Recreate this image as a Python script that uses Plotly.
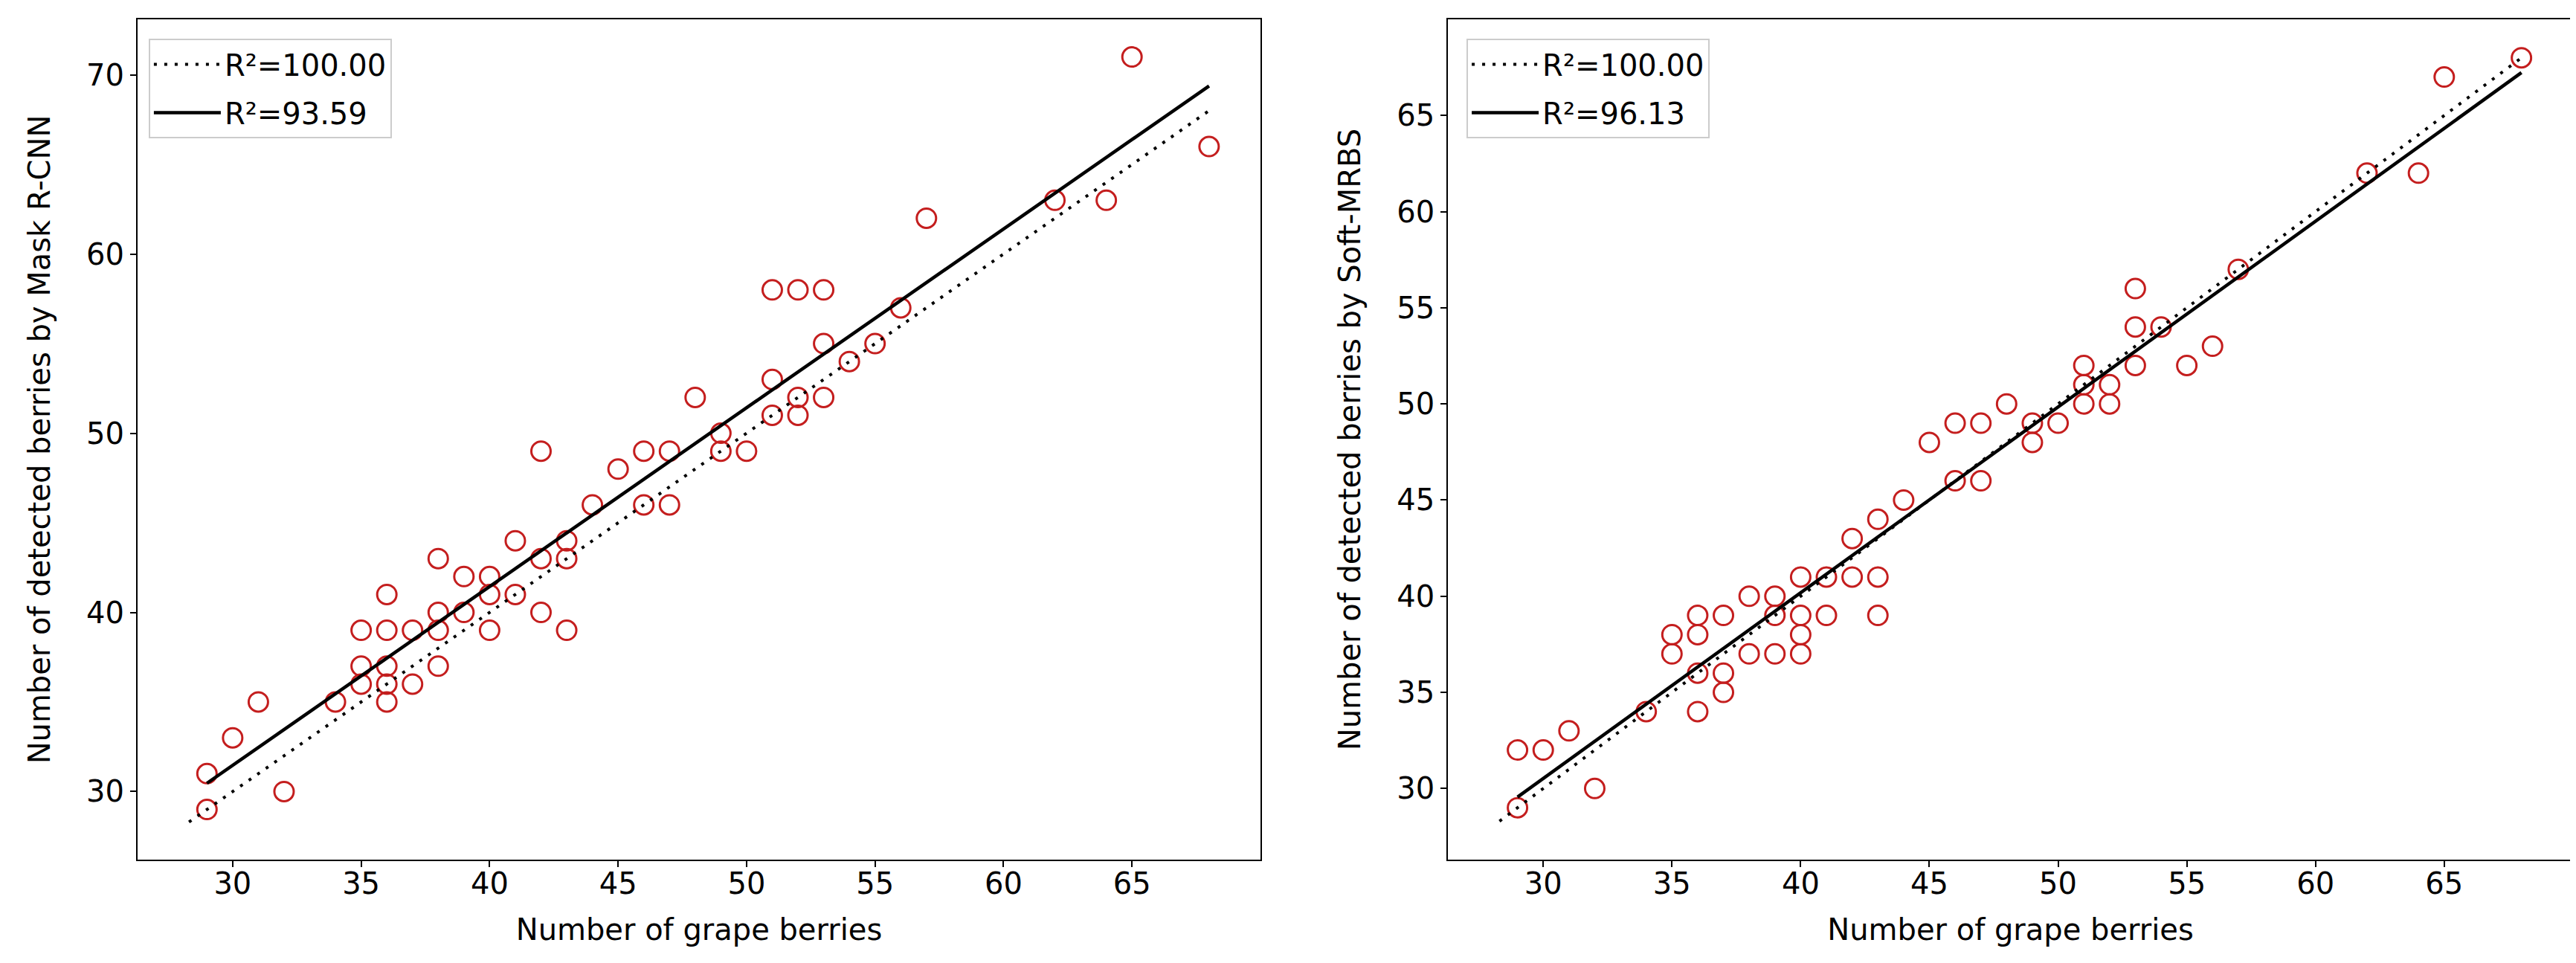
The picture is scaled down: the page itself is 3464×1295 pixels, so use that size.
import numpy as np
import plotly.graph_objects as go
from plotly.subplots import make_subplots

mask_true = [29, 29, 30, 31, 32, 34, 35, 35, 35, 36, 36, 36, 36, 36, 37, 37, 38, 38, 38, 38,
             39, 39, 40, 40, 40, 41, 41, 42, 42, 42, 43, 43, 43, 44, 45, 46, 46, 47, 47, 48,
             49, 49, 50, 51, 51, 51, 52, 52, 52, 53, 53, 53, 54, 55, 56, 57, 62, 64, 65, 68]
mask_pred = [29, 31, 33, 35, 30, 35, 39, 37, 36, 41, 39, 37, 36, 35, 39, 36, 43, 40, 39, 37,
             42, 40, 42, 41, 39, 44, 41, 43, 40, 49, 44, 43, 39, 46, 48, 49, 46, 49, 46, 52,
             50, 49, 49, 58, 53, 51, 58, 52, 51, 58, 55, 52, 54, 55, 57, 62, 63, 63, 71, 66]

soft_true = [29, 29, 30, 31, 32, 34, 35, 35, 36, 36, 36, 36, 37, 37, 37, 38, 38, 39, 39, 39,
             40, 40, 40, 40, 41, 41, 42, 42, 43, 43, 43, 44, 45, 46, 46, 47, 47, 48, 49, 49,
             50, 51, 51, 51, 52, 52, 53, 53, 53, 54, 55, 56, 57, 62, 64, 65, 68]
soft_pred = [29, 32, 32, 33, 30, 34, 38, 37, 39, 38, 36, 34, 39, 36, 35, 40, 37, 40, 39, 37,
             41, 39, 38, 37, 41, 39, 41, 43, 41, 39, 44, 45, 48, 49, 46, 49, 46, 50, 49, 48,
             49, 52, 51, 50, 51, 50, 56, 54, 52, 54, 52, 53, 57, 62, 62, 67, 68]

identity_x = [28.3, 68]
r2_labels = ["R²=100.00", "R²=93.59", "R²=96.13"]
ylabels = ["Number of detected berries by Mask R-CNN", "Number of detected berries by Soft-MRBS"]

FONT = "DejaVu Sans"
FS = 40
red = "#c41e1e"

fig = make_subplots(rows=1, cols=2)

for col, (xt, yp, lab, leg) in enumerate([(mask_true, mask_pred, r2_labels[1], "legend"),
                                          (soft_true, soft_pred, r2_labels[2], "legend2")], start=1):
    xt = np.array(xt); yp = np.array(yp)
    fig.add_trace(go.Scatter(x=xt, y=yp, mode="markers", showlegend=False,
                             marker=dict(symbol="circle-open", size=26, color=red, line=dict(width=3, color=red))),
                  row=1, col=col)
    fig.add_trace(go.Scatter(x=identity_x, y=identity_x, mode="lines", name=r2_labels[0], legend=leg,
                             legendgroup=f"id{col}",
                             line=dict(color="black", width=4, dash="4px,10px")), row=1, col=col)
    k, b = np.polyfit(xt, yp, 1)
    fx = np.array([xt.min(), xt.max()])
    fig.add_trace(go.Scatter(x=fx, y=k * fx + b, mode="lines", name=lab, legend=leg,
                             legendgroup=f"fit{col}",
                             line=dict(color="black", width=4.5)), row=1, col=col)

axis_style = dict(showline=True, linecolor="black", linewidth=2, mirror=True, ticks="outside",
                  ticklen=8, tickwidth=2, tickcolor="black", showgrid=False, zeroline=False,
                  automargin=False, tickfont=dict(family=FONT, size=FS, color="black"))
title_font = dict(family=FONT, size=FS, color="black")

fig.update_xaxes(axis_style, range=[26.3, 70.0], tickvals=list(range(30, 70, 5)), ticklabelstandoff=-12,
                 title=dict(text="Number of grape berries", font=title_font, standoff=26))
fig.update_xaxes(domain=[0.0511, 0.4870], row=1, col=1)
fig.update_xaxes(domain=[0.5598, 0.9965], row=1, col=2)
fig.update_yaxes(axis_style, domain=[0.1135, 0.9861])
fig.update_yaxes(range=[26.2, 73.1], tickvals=[30, 40, 50, 60, 70],
                 title=dict(text=ylabels[0], font=title_font, standoff=36), row=1, col=1)
fig.update_yaxes(range=[26.3, 70.0], tickvals=list(range(30, 70, 5)),
                 title=dict(text=ylabels[1], font=title_font, standoff=36), row=1, col=2)

leg_style = dict(xanchor="left", yanchor="top", bgcolor="rgba(255,255,255,0.8)", bordercolor="#cccccc",
                 borderwidth=2, itemwidth=90, tracegroupgap=10, font=dict(family=FONT, size=FS, color="black"))
fig.update_layout(
    width=3464, height=1295, margin=dict(l=0, r=0, t=0, b=0),
    paper_bgcolor="white", plot_bgcolor="white", font=dict(family=FONT, size=FS, color="black"),
    legend=dict(leg_style, x=0.0554, y=0.966),
    legend2=dict(leg_style, x=0.567, y=0.966),
)

fig.write_html("out.html")
